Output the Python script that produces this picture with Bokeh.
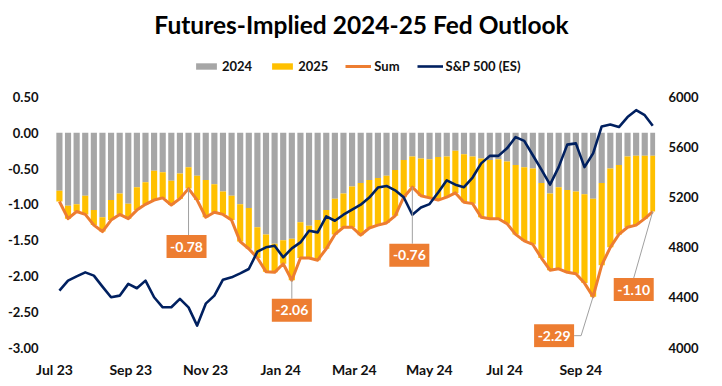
import numpy as np
import pandas as pd
from bokeh.plotting import figure
from bokeh.models import (Range1d, LinearAxis, FixedTicker, NumeralTickFormatter,
                          DatetimeTickFormatter, MonthsTicker, Legend, LegendItem,
                          Label, ColumnDataSource)
from bokeh.core.properties import value
from bokeh.embed import file_html
from bokeh.resources import INLINE

# ---------------- data (weekly) ----------------
week_start = pd.date_range("2023-07-03", periods=70, freq="7D")   # Mondays
days_traded = [5] * 69 + [4]                                      # last week ends Thu Oct 31

y2024 = [-0.81, -1.02, -1.00, -0.88, -1.08, -1.18, -0.94, -0.85, -0.99, -0.76,
         -0.69, -0.53, -0.55, -0.67, -0.57, -0.48, -0.60, -0.66, -0.72, -0.82,
         -0.88, -1.00, -1.05, -1.32, -1.42, -1.55, -1.50, -1.48, -1.25, -1.30,
         -1.22, -1.08, -0.92, -0.85, -0.75, -0.70, -0.66, -0.63, -0.60, -0.52,
         -0.38, -0.33, -0.36, -0.37, -0.34, -0.33, -0.25, -0.30, -0.33, -0.36,
         -0.38, -0.37, -0.40, -0.45, -0.48, -0.50, -0.70, -0.85, -0.76, -0.80,
         -0.82, -0.86, -0.92, -0.70, -0.50, -0.45, -0.33, -0.32, -0.32, -0.32]

y2025 = [-0.15, -0.18, -0.10, -0.26, -0.21, -0.20, -0.28, -0.29, -0.21, -0.32,
         -0.31, -0.41, -0.36, -0.34, -0.35, -0.30, -0.34, -0.52, -0.39, -0.32,
         -0.34, -0.52, -0.57, -0.43, -0.52, -0.40, -0.33, -0.58, -0.50, -0.45,
         -0.56, -0.54, -0.50, -0.47, -0.57, -0.73, -0.67, -0.66, -0.66, -0.64,
         -0.52, -0.43, -0.52, -0.54, -0.60, -0.57, -0.59, -0.67, -0.66, -0.82,
         -0.82, -0.83, -0.87, -0.97, -1.03, -1.06, -1.05, -1.07, -1.14, -1.15,
         -1.15, -1.24, -1.37, -1.15, -1.10, -0.97, -0.99, -0.97, -0.88, -0.78]

spx = [4454, 4534, 4568, 4600, 4574, 4486, 4401, 4414, 4508, 4473,
       4534, 4401, 4321, 4321, 4388, 4320, 4175, 4350, 4414, 4541,
       4560, 4592, 4627, 4765, 4800, 4813, 4720, 4792, 4839, 4932,
       4919, 5047, 5012, 5060, 5100, 5140, 5197, 5277, 5290, 5255,
       5200, 5060, 5118, 5145, 5237, 5335, 5300, 5280, 5357, 5470,
       5530, 5530, 5590, 5680, 5650, 5535, 5420, 5300, 5440, 5620,
       5630, 5440, 5550, 5765, 5780, 5760, 5840, 5895, 5855, 5770]

left_ticks = [-3.0, -2.5, -2.0, -1.5, -1.0, -0.5, 0.0, 0.5]
right_ticks = [4000, 4400, 4800, 5200, 5600, 6000]

ann_index = [15, 27, 41, 62, 69]
ann_text = ["-0.78", "-2.06", "-0.76", "-2.29", "-1.10"]

# ---------------- styling / layout ----------------
W, H = 714, 380
BL, BR, BT, BB = 54, 59, 0, 33
FW, FH = W - BL - BR, H - BT - BB
TOP_TICK_PX = 96.5                      # pixel (from canvas top) of the 0.50 tick
GRAY, YELLOW, ORANGE, NAVY = "#A6A6A6", "#FFC000", "#ED7D31", "#002060"
FONT = "Lato"
TXT = "#111111"

DAY = 86400000.0
ws_ms = week_start.values.astype("datetime64[ms]").astype("int64").astype(float)
left_e = ws_ms - 0.5 * DAY
right_e = ws_ms + (np.array(days_traded) - 0.5) * DAY
center = (left_e + right_e) / 2.0

a24 = np.array(y2024)
total = np.round(a24 + np.array(y2025), 2)

x0 = pd.Timestamp("2023-07-01").value / 1e6
x1 = pd.Timestamp("2024-10-31 18:00").value / 1e6
ymin, ytick_max = -3.0, 0.5
ppy = (FH - TOP_TICK_PX) / (ytick_max - ymin)     # px per unit
ymax = ymin + FH / ppy
r_lo, r_hi = 4000.0, 6000.0
r_max = r_lo + (ymax - ymin) * (r_hi - r_lo) / (ytick_max - ymin)

p = figure(width=W, height=H, x_axis_type="datetime",
           x_range=Range1d(x0, x1), y_range=Range1d(ymin, ymax),
           output_backend="svg", toolbar_location=None,
           min_border_left=BL, min_border_right=BR, min_border_top=BT, min_border_bottom=BB)
p.title.visible = False
p.outline_line_color = None
p.grid.visible = False
p.background_fill_color = "white"
p.border_fill_color = "white"
p.extra_y_ranges = {"spx": Range1d(r_lo, r_max)}

src = ColumnDataSource(dict(left=left_e, right=right_e, x=center,
                            a24=a24, tot=total, spx=spx, zero=np.zeros(len(a24))))

r24 = p.quad(left="left", right="right", top="zero", bottom="a24", source=src,
             fill_color=GRAY, line_color=None)
r25 = p.quad(left="left", right="right", top="a24", bottom="tot", source=src,
             fill_color=YELLOW, line_color=None)
rsum = p.line("x", "tot", source=src, line_color=ORANGE, line_width=3, line_join="round")
rspx = p.line("x", "spx", source=src, y_range_name="spx", line_color=NAVY, line_width=2.6,
              line_join="round")

# axes
def style_axis(ax, standoff, size="13px"):
    ax.axis_line_color = None
    ax.major_tick_line_color = None
    ax.minor_tick_line_color = None
    ax.major_tick_out = 0
    ax.major_tick_in = 0
    ax.major_label_standoff = standoff
    ax.major_label_text_font = FONT
    ax.major_label_text_font_style = "bold"
    ax.major_label_text_font_size = size
    ax.major_label_text_color = TXT

ya = p.yaxis[0]
ya.ticker = FixedTicker(ticks=left_ticks)
ya.formatter = NumeralTickFormatter(format="0.00")
style_axis(ya, 16)

ra = LinearAxis(y_range_name="spx", ticker=FixedTicker(ticks=right_ticks))
style_axis(ra, 13)
p.add_layout(ra, "right")

xa = p.xaxis[0]
xa.ticker = MonthsTicker(months=[0, 2, 4, 6, 8, 10])
xa.formatter = DatetimeTickFormatter(months="%b %y", days="%b %y", years="%b %y")
style_axis(xa, 13, "14px")

# annotations: boxes with leader lines
ppx = FW / (x1 - x0)          # px per ms
box_w, box_h = 40, 23
box_off = [(-2, 58), (0, 30), (-3, 68), (-39, 39), (-19, 78)]
leader_off = [[(0, 0), (0, 58 - 11.5)],
              [(0, 0), (0, 30 - 11.5)],
              [(0, 0), (0, 68 - 11.5)],
              [(0, 0), (-12, 39), (-19, 39)],
              [(0, 0), (-19, 78 - 11.5)]]
lx, ly, bx, by = [], [], [], []
for i, k in enumerate(ann_index):
    cx, cy = center[k], total[k]
    lx.append([cx + dx / ppx for dx, dy in leader_off[i]])
    ly.append([cy - dy / ppy for dx, dy in leader_off[i]])
    bx.append(cx + box_off[i][0] / ppx)
    by.append(cy - box_off[i][1] / ppy)
p.multi_line(lx, ly, line_color="#A0A0A0", line_width=1)
p.rect(bx, by, width=box_w, height=box_h, width_units="screen", height_units="screen",
       fill_color=ORANGE, line_color=None)
p.text(bx, by, text=ann_text, text_align="center", text_baseline="middle",
       text_color="white", text_font=value(FONT), text_font_style="bold",
       text_font_size="14px")

# legend (inside the tall frame, above the data area)
legend = Legend(items=[LegendItem(label="2024", renderers=[r24]),
                       LegendItem(label="2025", renderers=[r25]),
                       LegendItem(label="Sum", renderers=[rsum]),
                       LegendItem(label="S&P 500 (ES)", renderers=[rspx])],
                orientation="horizontal", location=(193 - BL, FH - 74),
                glyph_width=26, glyph_height=8, label_standoff=3, spacing=17,
                padding=0, margin=0, border_line_color=None, background_fill_alpha=0,
                label_text_font=FONT, label_text_font_style="bold",
                label_text_font_size="13px", label_height=14, label_text_color=TXT)
p.add_layout(legend)

# title
p.add_layout(Label(x=361 - BL, y=FH - 23.5, x_units="screen", y_units="screen",
                   text="Futures-Implied 2024-25 Fed Outlook", text_align="center",
                   text_baseline="alphabetic", text_font=FONT, text_font_style="bold",
                   text_font_size="24.5px", text_color="#000000"))

open("out.html", "w").write(file_html(p, INLINE))
